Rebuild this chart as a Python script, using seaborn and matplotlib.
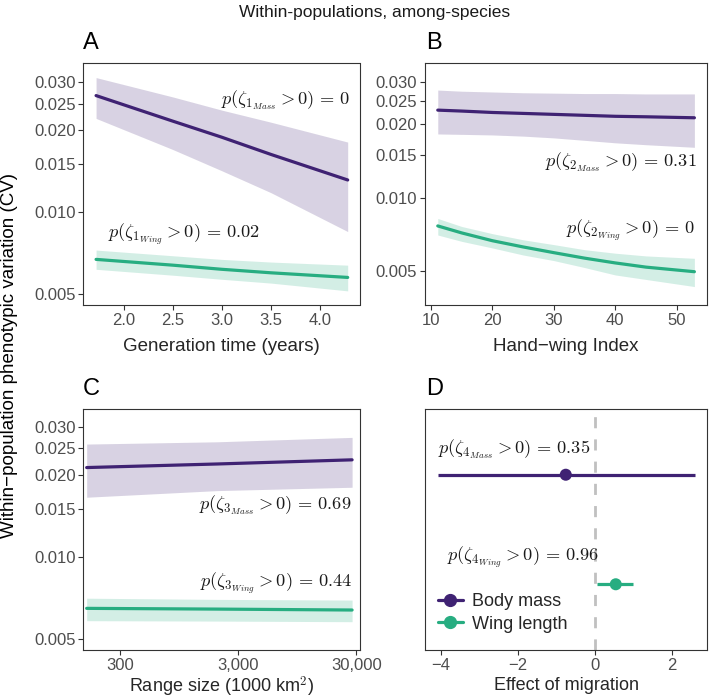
import numpy as np
import pandas as pd
import matplotlib
matplotlib.use("Agg")
import matplotlib.pyplot as plt
from matplotlib.ticker import FixedLocator, FixedFormatter, NullLocator
import seaborn as sns

# ---------------- data ----------------
gen_time = [1.72, 2.5, 3.0, 3.5, 4.28]
a_mass = [0.0268, 0.0216, 0.01885, 0.0163, 0.01314]
a_mass_lo = [0.0221, 0.0170, 0.0142, 0.0118, 0.0085]
a_mass_hi = [0.0312, 0.0265, 0.0237, 0.0214, 0.0181]
a_wing = [0.00672, 0.00640, 0.00618, 0.00600, 0.00577]
a_wing_lo = [0.00618, 0.00588, 0.00568, 0.00550, 0.00515]
a_wing_hi = [0.00727, 0.00693, 0.00672, 0.00657, 0.0064]

hwi = [11.1, 15, 20, 25, 30, 35, 40, 45, 52.9]
b_mass = [0.0229, 0.0227, 0.0224, 0.0222, 0.0220, 0.0218, 0.0216, 0.0215, 0.0213]
b_mass_lo = [0.01827, 0.0182, 0.0181, 0.0179, 0.0176, 0.0172, 0.0168, 0.0165, 0.0161]
b_mass_hi = [0.0277, 0.0274, 0.0272, 0.0270, 0.0269, 0.0268, 0.0268, 0.0267, 0.0267]
b_wing = [0.00764, 0.00715, 0.00664, 0.00626, 0.00593, 0.00563, 0.00538, 0.00517, 0.00495]
b_wing_lo = [0.00701, 0.0066, 0.0062, 0.0058, 0.0055, 0.00515, 0.0048, 0.0046, 0.0043]
b_wing_hi = [0.0082, 0.0076, 0.0071, 0.0067, 0.0064, 0.0061, 0.0059, 0.00575, 0.00562]

range_size = [157, 2000, 27700]
c_mass = [0.02125, 0.0219, 0.02268]
c_mass_lo = [0.01655, 0.0175, 0.0180]
c_mass_hi = [0.0259, 0.0264, 0.0274]
c_wing = [0.00649, 0.00645, 0.0064]
c_wing_lo = [0.00585, 0.00583, 0.0058]
c_wing_hi = [0.00707, 0.0070, 0.00696]

traits = ["Body mass", "Wing length"]
mig_est = [-0.76, 0.54]
mig_lo = [-4.09, 0.06]
mig_hi = [2.59, 0.98]

y_ticks = [0.005, 0.010, 0.015, 0.020, 0.025, 0.030]
y_tick_labels = ["0.005", "0.010", "0.015", "0.020", "0.025", "0.030"]

PURPLE = "#3F2273"
GREEN = "#27AD81"
palette = {"Body mass": PURPLE, "Wing length": GREEN}

# ---------------- style ----------------
sns.set_theme(style="white")
plt.rcParams["font.family"] = ["Liberation Sans", "DejaVu Sans"]
plt.rcParams["mathtext.fontset"] = "cm"

fig = plt.figure(figsize=(7.09, 6.97), dpi=100)
W, H = 709, 697

def make_ax(l, r, t, b):
    return fig.add_axes([l / W, 1 - b / H, (r - l) / W, (b - t) / H])

axA = make_ax(83.3, 359.5, 63.3, 305.3)
axB = make_ax(425, 707.3, 63.3, 305.3)
axC = make_ax(83.3, 359.5, 409, 650)
axD = make_ax(425, 707.3, 409, 650)

TICK_COL = "#4D4D4D"
LAB_FS = 13.5

def style_ax(ax):
    for s in ax.spines.values():
        s.set_visible(True)
        s.set_color("#333333")
        s.set_linewidth(0.8)
    ax.tick_params(axis="both", which="major", direction="out", length=3.5,
                   width=0.8, color="#333333", labelcolor=TICK_COL,
                   labelsize=12, pad=2, bottom=True, left=True)
    ax.grid(False)

def curve_panel(ax, x, mass, mlo, mhi, wing, wlo, whi):
    df = pd.DataFrame({
        "x": list(x) * 2,
        "y": list(mass) + list(wing),
        "lo": list(mlo) + list(wlo),
        "hi": list(mhi) + list(whi),
        "trait": ["Body mass"] * len(x) + ["Wing length"] * len(x),
    })
    for tr, g in df.groupby("trait"):
        ax.fill_between(g["x"], g["lo"], g["hi"], color=palette[tr],
                        alpha=0.2, linewidth=0)
    sns.lineplot(data=df, x="x", y="y", hue="trait", palette=palette,
                 linewidth=2.3, legend=False, ax=ax, estimator=None)
    ax.set_yscale("log")
    ax.yaxis.set_major_locator(FixedLocator(y_ticks))
    ax.yaxis.set_major_formatter(FixedFormatter(y_tick_labels))
    ax.yaxis.set_minor_locator(NullLocator())
    ax.set_ylabel("")
    style_ax(ax)

ANN = dict(fontsize=13.2, color="#1A1A1A")

def lab(k, trait, val):
    return r"$p(\zeta_{%d_{%s}} > 0)\,=\,%s$" % (k, trait, val)

# Panel A
curve_panel(axA, gen_time, a_mass, a_mass_lo, a_mass_hi, a_wing, a_wing_lo, a_wing_hi)
axA.set_xlim(1.59, 4.40)
axA.set_ylim(0.00456, 0.0352)
axA.set_xticks([2.0, 2.5, 3.0, 3.5, 4.0])
axA.set_xticklabels(["2.0", "2.5", "3.0", "3.5", "4.0"])
axA.set_xlabel("Generation time (years)", fontsize=LAB_FS, labelpad=7)
axA.text(0.967, 0.848, lab(1, "Mass", "0"), transform=axA.transAxes,
         ha="right", va="center", **ANN)
axA.text(0.091, 0.295, lab(1, "Wing", "0.02"), transform=axA.transAxes,
         ha="left", va="center", **ANN)

# Panel B
curve_panel(axB, hwi, b_mass, b_mass_lo, b_mass_hi, b_wing, b_wing_lo, b_wing_hi)
axB.set_xlim(9.02, 55.0)
axB.set_ylim(0.0036, 0.0357)
axB.set_xticks([10, 20, 30, 40, 50])
axB.set_xlabel("Hand\u2212wing Index", fontsize=LAB_FS, labelpad=7)
axB.text(0.962, 0.589, lab(2, "Mass", "0.31"), transform=axB.transAxes,
         ha="right", va="center", **ANN)
axB.text(0.956, 0.308, lab(2, "Wing", "0"), transform=axB.transAxes,
         ha="right", va="center", **ANN)

# Panel C
curve_panel(axC, range_size, c_mass, c_mass_lo, c_mass_hi, c_wing, c_wing_lo, c_wing_hi)
axC.set_xscale("log")
axC.set_xlim(147, 32000)
axC.set_ylim(0.00457, 0.0348)
axC.xaxis.set_major_locator(FixedLocator([300, 3000, 30000]))
axC.xaxis.set_major_formatter(FixedFormatter(["300", "3,000", "30,000"]))
axC.xaxis.set_minor_locator(NullLocator())
axC.set_xlabel(r"Range size (1000 km$^{2}$)", fontsize=13, labelpad=1)
axC.text(0.972, 0.602, lab(3, "Mass", "0.69"), transform=axC.transAxes,
         ha="right", va="center", **ANN)
axC.text(0.972, 0.277, lab(3, "Wing", "0.44"), transform=axC.transAxes,
         ha="right", va="center", **ANN)

# Panel D
dfD = pd.DataFrame({"trait": traits, "est": mig_est, "lo": mig_lo, "hi": mig_hi,
                    "pos": [1.0, 2.0]})
axD.axvline(0, color="#C0C0C0", linestyle=(0, (4, 4)), linewidth=2, zorder=1)
for i in range(len(traits)):
    axD.plot([mig_lo[i], mig_hi[i]], [dfD["pos"][i], dfD["pos"][i]],
             color=palette[traits[i]], linewidth=2.3, zorder=2, solid_capstyle="butt")
sns.scatterplot(data=dfD, x="est", y="pos", hue="trait", palette=palette, s=75,
                edgecolor="none", legend=False, ax=axD, zorder=3)
axD.set_xlim(-4.42, 2.92)
axD.set_ylim(2.6, 0.4)
axD.set_xticks([-4, -2, 0, 2])
axD.set_xticklabels(["\u22124", "\u22122", "0", "2"])
axD.set_yticks([])
axD.set_ylabel("")
axD.set_xlabel("Effect of migration", fontsize=13, labelpad=3)
style_ax(axD)
axD.tick_params(axis="y", left=False)
axD.text(0.046, 0.833, lab(4, "Mass", "0.35"), transform=axD.transAxes,
         ha="left", va="center", **ANN)
axD.text(0.077, 0.386, lab(4, "Wing", "0.96"), transform=axD.transAxes,
         ha="left", va="center", **ANN)
handles = [plt.Line2D([], [], color=palette[t], marker="o", markersize=8.5,
                      linewidth=2.3) for t in traits]
axD.legend(handles, traits, loc="lower left", bbox_to_anchor=(0.0, 0.02),
           frameon=False, fontsize=13, handlelength=1.4, handletextpad=0.5,
           labelspacing=0.3, borderaxespad=0.3)

# Panel letters
for ax_lbl, (x, y) in {"A": (83, 43), "B": (426, 43), "C": (83, 389), "D": (426, 389)}.items():
    fig.text(x / W, 1 - y / H, ax_lbl, fontsize=17, ha="left", va="center", color="#000000")

fig.text(375 / W, 1 - 12 / H, "Within-populations, among-species", fontsize=12.5,
         ha="center", va="center", color="#1A1A1A")
fig.text(10 / W, 1 - 356 / H, "Within\u2212population phenotypic variation (CV)",
         fontsize=13.5, rotation=90, ha="center", va="center", color="#000000")

fig.savefig("out.png", dpi=100)
